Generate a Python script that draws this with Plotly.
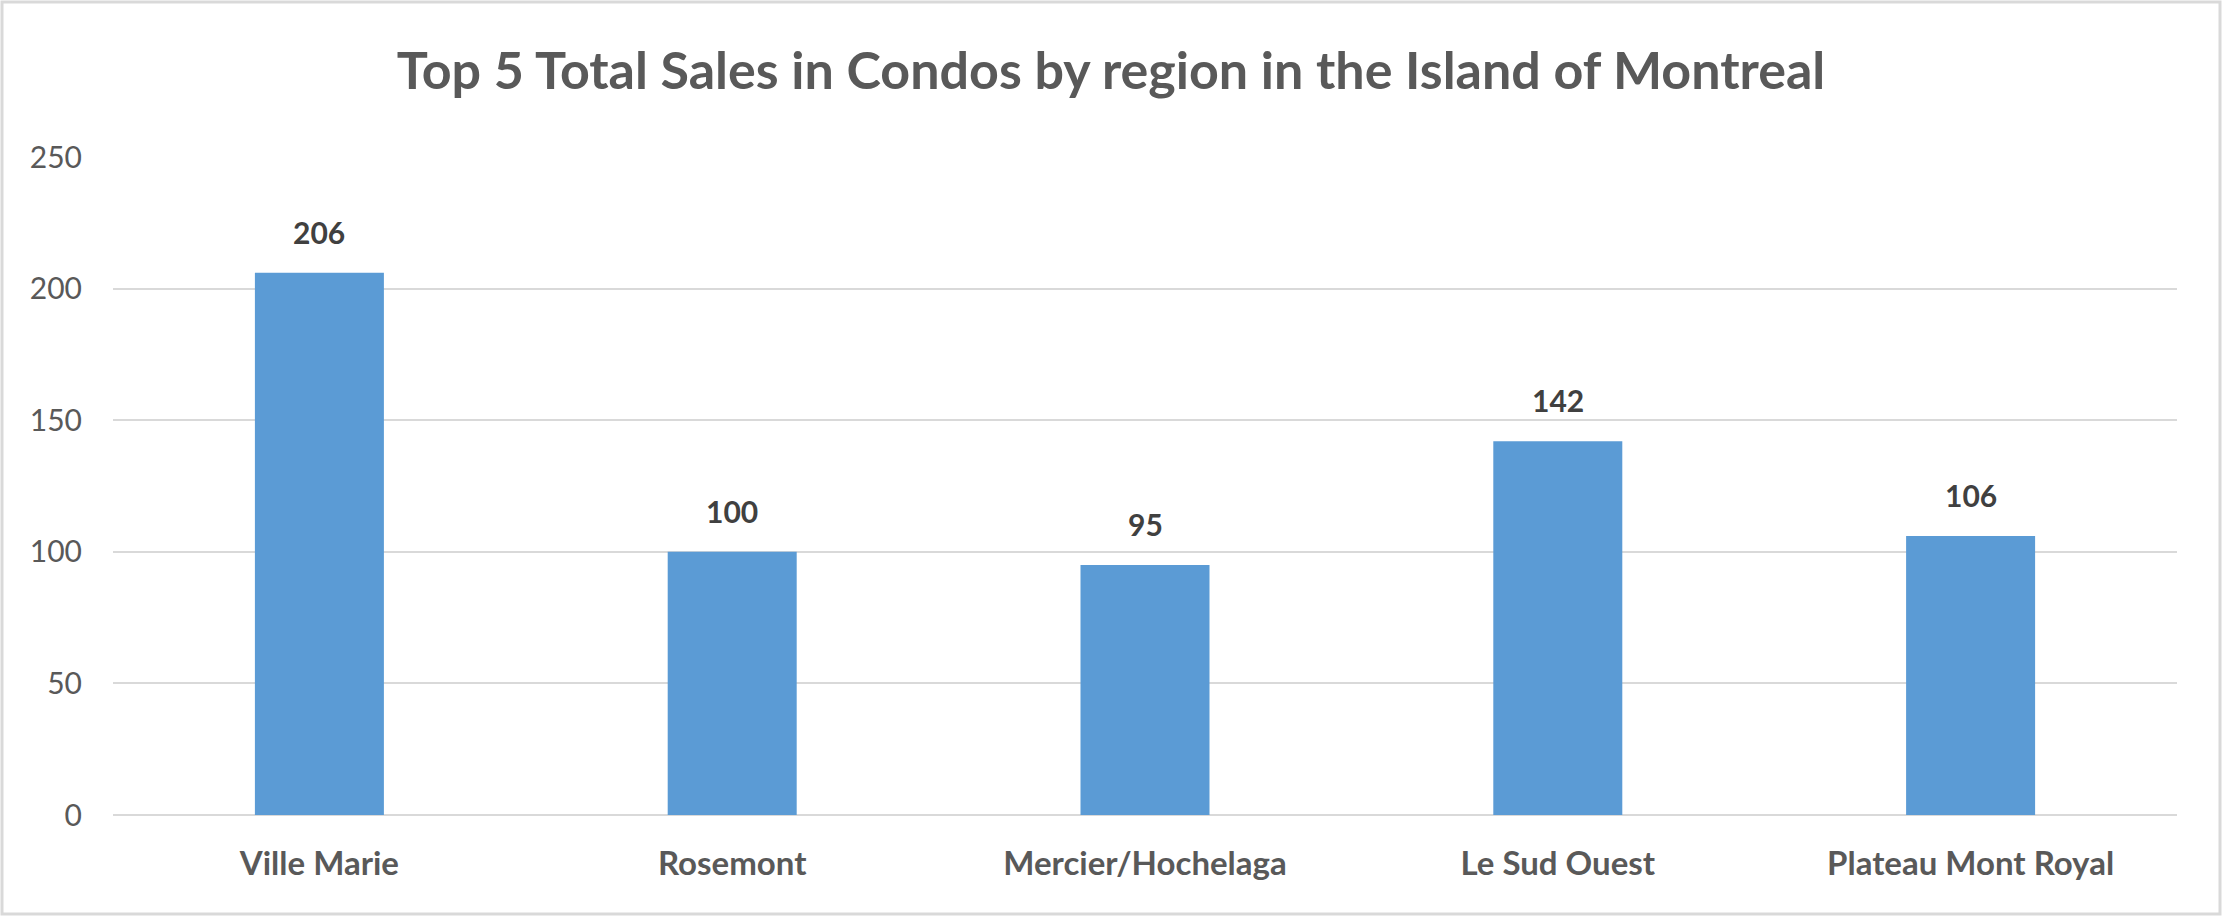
import plotly.graph_objects as go

categories = ["Ville Marie", "Rosemont", "Mercier/Hochelaga", "Le Sud Ouest", "Plateau Mont Royal"]
sales = [206, 100, 95, 142, 106]
y_ticks = [0, 50, 100, 150, 200, 250]

W, H = 2222, 916
ML, MR, MT, MB = 113, 45, 157, 101
PW, PH = W - ML - MR, H - MT - MB

fig = go.Figure()
fig.add_trace(go.Bar(
    x=categories, y=sales,
    marker=dict(color="#5B9BD5", line=dict(width=0)),
    hoverinfo="x+y",
))

for c, v in zip(categories, sales):
    fig.add_annotation(
        x=c, y=v, text=str(v), showarrow=False, yshift=41,
        font=dict(family="Lato", size=30, color="#404040", weight="bold"),
    )

fig.add_shape(
    type="rect", xref="paper", yref="paper",
    x0=-(ML - 2) / PW, x1=1 + (MR - 2) / PW,
    y0=-(MB - 2) / PH, y1=1 + (MT - 2) / PH,
    line=dict(color="#D9D9D9", width=3), fillcolor="rgba(0,0,0,0)", layer="below",
)

fig.update_layout(
    width=W, height=H,
    margin=dict(l=ML, r=MR, t=MT, b=MB, pad=0),
    paper_bgcolor="white", plot_bgcolor="white",
    bargap=0.6875,
    showlegend=False,
    title=dict(
        text="Top 5 Total Sales in Condos by region in the Island of Montreal",
        x=0.5, xref="container", xanchor="center",
        y=1 - 71 / H, yanchor="middle",
        font=dict(family="Lato", size=52, color="#595959", weight="bold"),
    ),
    xaxis=dict(
        showgrid=False, zeroline=False, showline=False, ticks="",
        tickfont=dict(family="Lato", size=33, color="#595959", weight="bold"),
        ticklabelstandoff=26,
    ),
    yaxis=dict(
        range=[0, 250], tickvals=y_ticks,
        showgrid=True, gridcolor="#D9D9D9", gridwidth=2,
        zeroline=True, zerolinecolor="#D9D9D9", zerolinewidth=2,
        showline=False, ticks="",
        tickfont=dict(family="Lato", size=30, color="#595959"),
        ticklabelstandoff=30,
    ),
)

fig.write_html("out.html")
